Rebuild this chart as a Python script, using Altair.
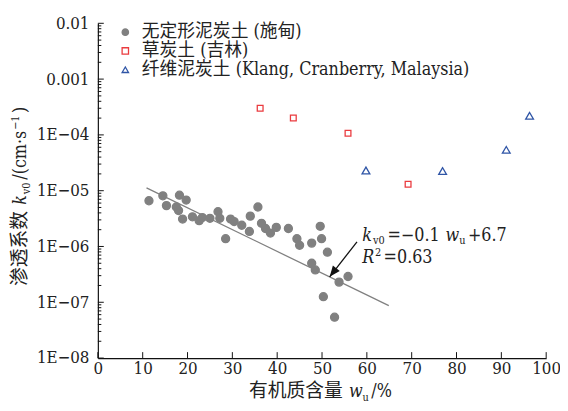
import altair as alt
import pandas as pd

# ---------------- data ----------------
amorph_x = [11.4, 14.5, 15.3, 18.2, 19.7, 17.5, 18.0, 18.9, 21.1, 22.6, 23.3, 25.0, 26.8,
            27.2, 28.5, 29.6, 30.4, 32.1, 34.0, 35.7, 33.8, 36.5, 37.4, 38.5, 39.8, 42.5,
            44.4, 45.0, 47.7, 49.6, 49.9, 51.2, 47.7, 48.5, 55.8, 53.8, 50.3, 52.8]
amorph_y = [6.6e-6, 8.1e-6, 5.4e-6, 8.3e-6, 6.8e-6, 5.1e-6, 4.4e-6, 3.1e-6, 3.4e-6, 2.9e-6,
            3.3e-6, 3.2e-6, 4.2e-6, 3.2e-6, 1.38e-6, 3.1e-6, 2.8e-6, 2.4e-6, 3.5e-6, 5.1e-6,
            1.86e-6, 2.6e-6, 2.1e-6, 1.74e-6, 2.2e-6, 2.1e-6, 1.38e-6, 1.05e-6, 1.15e-6,
            2.3e-6, 1.38e-6, 7.9e-7, 5.0e-7, 3.8e-7, 2.9e-7, 2.3e-7, 1.26e-7, 5.4e-8]
peat_x = [36.2, 43.6, 55.8, 69.2]
peat_y = [3.0e-4, 2.0e-4, 1.07e-4, 1.3e-5]
fibrous_x = [59.8, 76.9, 91.1, 96.3]
fibrous_y = [2.3e-5, 2.25e-5, 5.4e-5, 2.2e-4]

series_names = ["无定形泥炭土 (施甸)", "草炭土 (吉林)", "纤维泥炭土 (Klang, Cranberry, Malaysia)"]
series_stroke = ["#808080", "#ea3b3f", "#2f55a6"]
series_fill = ["#808080", "transparent", "transparent"]
series_shape = ["circle", "square", "triangle-up"]
series_size = [66, 34, 62]

fit_x = [10.85, 64.9]
fit_y = [1.12e-5, 8.7e-8]
arrow_x = [57.8, 51.7]
arrow_y = [1.21e-6, 2.86e-7]
eq_anchor = {"x": 59.0, "y1": 1.23e-6, "y2": 5.0e-7}

x_ticks = [0, 10, 20, 30, 40, 50, 60, 70, 80, 90, 100]
y_decades = [1e-8, 1e-7, 1e-6, 1e-5, 1e-4, 1e-3, 1e-2]
minor_mantissas = [2, 3, 4, 5, 6, 7, 8, 9]

# ---------------- styling ----------------
FONT = "DejaVu Serif Condensed, DejaVu Serif, Noto Sans CJK SC"
TXT = "#222222"
W, H = 454, 339
COND = 0.9  # condensed factor

# DejaVu Serif advance widths (per 1000 em)
REG = {' ': 318, '(': 390, ')': 390, '/': 337, '%': 950, '.': 318, '=': 838, '+': 838,
       '−': 838, 'c': 560, 'm': 948, 's': 514, '·': 318, 'v': 592, 'u': 644}
for d in "0123456789":
    REG[d] = 636
ITAL = {'k': 613, 'w': 800, 'R': 733}


def text_width(t, size, italic=False):
    tot = 0
    for ch in t:
        if ord(ch) > 0x2E80:
            tot += 1000
        elif italic and ch in ITAL:
            tot += ITAL[ch] * COND
        else:
            tot += REG.get(ch, 600) * COND
    return tot * size / 1000.0


def gap(sz):
    # a little extra room after the small sub/superscript pieces
    return 2.5 if sz < 15 else 0.8


label_expr = ("datum.value >= 0.001 ? format(datum.value, '') : "
              "'1E−0' + format(-round(log(datum.value)/LN10), 'd')")

xdef = alt.X("x:Q", scale=alt.Scale(domain=[0, 100], nice=False, zero=False),
             axis=alt.Axis(values=x_ticks, title=None, ticks=False, grid=False,
                           labelFont=FONT, labelFontSize=17, labelColor=TXT,
                           labelPadding=3, labelFlush=False, labelOverlap=False,
                           domainColor="#111111", domainWidth=1.2))
ydef = alt.Y("y:Q", scale=alt.Scale(type="log", domain=[1e-8, 1e-2], nice=False),
             axis=alt.Axis(values=y_decades, title=None, ticks=False, grid=False,
                           labelExpr=label_expr,
                           labelFont=FONT, labelFontSize=17, labelColor=TXT,
                           labelPadding=9, labelOverlap=False,
                           domainColor="#111111", domainWidth=1.2))

layers = []

# inward ticks
major_df = pd.DataFrame({"y": y_decades})
minor_df = pd.DataFrame({"y": [m * d for d in y_decades[:-1] for m in minor_mantissas]})
xt_df = pd.DataFrame({"x": x_ticks})
layers.append(alt.Chart(major_df).mark_rule(color="#111111", strokeWidth=1).encode(
    y=ydef, x=alt.value(0), x2=alt.value(6)))
layers.append(alt.Chart(minor_df).mark_rule(color="#111111", strokeWidth=1).encode(
    y=ydef, x=alt.value(0), x2=alt.value(3.5)))
layers.append(alt.Chart(xt_df).mark_rule(color="#111111", strokeWidth=1).encode(
    x=xdef, y=alt.value(H), y2=alt.value(H - 6)))

# fit line
fit_df = pd.DataFrame({"x": [fit_x[0]], "y": [fit_y[0]], "x2": [fit_x[1]], "y2": [fit_y[1]]})
layers.append(alt.Chart(fit_df).mark_rule(color="#808080", strokeWidth=1.3).encode(
    x=xdef, y=ydef, x2="x2:Q", y2="y2:Q"))

# scatter: one layer per series, shared legend
leg = alt.Legend(title=None, orient="none", legendX=18.8, legendY=0, padding=0,
                 labelFont=FONT, labelFontSize=18, labelColor=TXT, labelOffset=7.7,
                 rowPadding=1, symbolSize=42, symbolStrokeWidth=1.3, labelLimit=500)
for i, (xs, ys) in enumerate(((amorph_x, amorph_y), (peat_x, peat_y), (fibrous_x, fibrous_y))):
    df = pd.DataFrame({"x": xs, "y": ys, "series": [series_names[i]] * len(xs)})
    layers.append(alt.Chart(df).mark_point(
        opacity=1, strokeWidth=1.3, size=series_size[i]).encode(
        x=xdef, y=ydef,
        stroke=alt.Stroke("series:N", scale=alt.Scale(domain=series_names, range=series_stroke), legend=leg),
        fill=alt.Fill("series:N", scale=alt.Scale(domain=series_names, range=series_fill), legend=leg),
        shape=alt.Shape("series:N", scale=alt.Scale(domain=series_names, range=series_shape), legend=leg),
    ))

# arrow
arr_df = pd.DataFrame({"x": [arrow_x[0]], "y": [arrow_y[0]], "x2": [arrow_x[1]], "y2": [arrow_y[1]]})
layers.append(alt.Chart(arr_df).mark_rule(color="#111111", strokeWidth=1.3).encode(
    x=xdef, y=ydef, x2="x2:Q", y2="y2:Q"))
tip_df = pd.DataFrame({"x": [arrow_x[1]], "y": [arrow_y[1]]})
layers.append(alt.Chart(tip_df).mark_point(
    shape="M0,0L-0.4,1L0.4,1Z", filled=True, opacity=1, color="#111111",
    size=484, angle=218, strokeWidth=0).encode(x=xdef, y=ydef))

# equation annotation (data-anchored, composed pieces)
line1 = [("k", 18, True, 0), ("v0", 11, False, 3), ("=−0.1 ", 18, False, 0),
         ("w", 18, True, 0), ("u", 11, False, 3), ("+6.7", 18, False, 0)]
line2 = [("R", 18, True, 0), ("2", 11, False, -7), ("=0.63", 18, False, 0)]
for pieces, ykey in ((line1, "y1"), (line2, "y2")):
    off = 0.0
    for t, sz, it, dy in pieces:
        df = pd.DataFrame({"x": [eq_anchor["x"]], "y": [eq_anchor[ykey]], "t": [t]})
        layers.append(alt.Chart(df).mark_text(
            align="left", baseline="alphabetic", dx=off, dy=dy, font=FONT, fontSize=sz,
            fontStyle="italic" if it else "normal", color=TXT).encode(
            x=xdef, y=ydef, text="t:N"))
        off += text_width(t, sz, it) + gap(sz)

# x axis title
xt_pieces = [("有机质含量 ", 19, False, 0), ("w", 18, True, 0), ("u", 11, False, 4),
             ("/%", 18, False, 0)]
off = 153.0
for t, sz, it, dy in xt_pieces:
    df = pd.DataFrame({"t": [t]})
    layers.append(alt.Chart(df).mark_text(
        align="left", baseline="alphabetic", font=FONT, fontSize=sz,
        fontStyle="italic" if it else "normal", color=TXT).encode(
        x=alt.value(off), y=alt.value(378 + dy), text="t:N"))
    off += text_width(t, sz, it) + gap(sz)

# y axis title (rotated)
yt_pieces = [("渗透系数 ", 19, False, 0), ("k", 18, True, 0), ("v0", 11, False, 4),
             ("/(cm·s", 18, False, 0), ("−1", 11, False, -7), (")", 18, False, 0)]
off = 266.0
for t, sz, it, dx in yt_pieces:
    df = pd.DataFrame({"t": [t]})
    layers.append(alt.Chart(df).mark_text(
        align="left", baseline="alphabetic", angle=270, font=FONT, fontSize=sz,
        fontStyle="italic" if it else "normal", color=TXT).encode(
        x=alt.value(-72.5 + dx), y=alt.value(off), text="t:N"))
    off -= text_width(t, sz, it) + gap(sz)

chart = alt.layer(*layers).properties(
    width=W, height=H, autosize="none",
    padding={"left": 91, "top": 13, "right": 14, "bottom": 43},
).configure_view(strokeWidth=0).configure_axis(grid=False)

chart.save("out.html", embed_options={"renderer": "svg", "actions": False})
